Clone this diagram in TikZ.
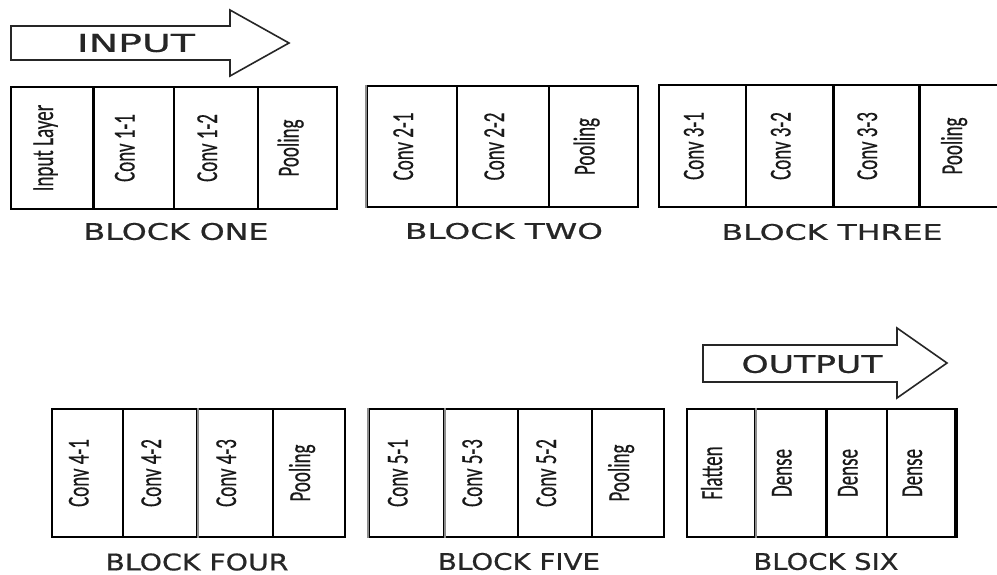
\documentclass[tikz,border=0pt]{standalone}
\usepackage{fontspec}
\usepackage{graphicx}
\newfontfamily\capfont[FakeBold=0.6]{DejaVu Sans}
\newfontfamily\lblfont[FakeBold=0.4]{Carlito}
\newcommand\cellbox[6]{%
  \node[cell, minimum width={#3-#2}, minimum height={#5-#4}] (#1) at ({(#2+#3)/2},{(#4+#5)/2}) {};
  \node[lbl] (#1t) at ([xshift=1pt]#1.center) {\scalebox{1}[1.6]{#6}};
}
\tikzset{
  cell/.style={draw=black, line width=1.5pt, inner sep=0pt, fill=white},
  lbl/.style={rotate=90, anchor=base, inner sep=0pt, text=black!90,
    font=\lblfont\fontsize{19}{19}\selectfont},
  captext/.style={inner sep=0pt, text=black!85, font=\capfont},
  arrowshape/.style={draw=black!85, line width=1.6pt, fill=white, line join=miter},
  thickdiv/.style={draw=black, line width=3pt},
  graydiv/.style={draw=black!45, line width=2.4pt},
}
\begin{document}
\begin{tikzpicture}[x=1pt, y=-1pt]
\useasboundingbox[fill=white] (0,0) rectangle (997,574);

% INPUT arrow
\draw[arrowshape] (11,26) -- (230,26) -- (230,10) -- (289,43) -- (230,76) -- (230,60) -- (11,60) -- cycle;
\node[captext] (intext) at (136,43) {\resizebox{118pt}{18pt}{INPUT}};

% OUTPUT arrow
\draw[arrowshape] (703,345) -- (897,345) -- (897,328) -- (947,363) -- (897,398) -- (897,382) -- (703,382) -- cycle;
\node[captext] (outtext) at (812,364) {\resizebox{141pt}{18pt}{OUTPUT}};

% Block one
\cellbox{a1}{11}{93}{87}{209}{Input Layer}
\cellbox{a2}{93}{174}{87}{209}{Conv 1-1}
\cellbox{a3}{174}{258}{87}{209}{Conv 1-2}
\cellbox{a4}{258}{337}{87}{209}{Pooling}
\draw[thickdiv] (a1.north east) -- (a1.south east);
\node[captext] (na) at (176,231.5) {\resizebox{185pt}{17pt}{BLOCK ONE}};

% Block two
\cellbox{b1}{367}{457}{86}{207}{Conv 2-1}
\cellbox{b2}{457}{549}{86}{207}{Conv 2-2}
\cellbox{b3}{549}{638}{86}{207}{Pooling}
\draw[graydiv] (b1.north west) -- (b1.south west);
\node[captext] (nb) at (504,231) {\resizebox{198pt}{16pt}{BLOCK TWO}};

% Block three
\cellbox{c1}{659}{746}{85}{207}{Conv 3-1}
\cellbox{c2}{746}{833}{85}{207}{Conv 3-2}
\cellbox{c3}{833}{919}{85}{207}{Conv 3-3}
\cellbox{c4}{919}{1003}{85}{207}{Pooling}
\draw[thickdiv] (c2.north east) -- (c2.south east);
\draw[line width=2.2pt] (c3.north east) -- (c3.south east);
\node[captext] (nc) at (832,232) {\resizebox{221pt}{16pt}{BLOCK THREE}};

% Block four
\cellbox{d1}{52}{123}{409}{537}{Conv 4-1}
\cellbox{d2}{123}{197}{409}{537}{Conv 4-2}
\cellbox{d3}{197}{273}{409}{537}{Conv 4-3}
\cellbox{d4}{273}{345}{409}{537}{Pooling}
\draw[graydiv] (d2.north east) -- (d2.south east);
\node[captext] (nd) at (197,562) {\resizebox{183pt}{17pt}{BLOCK FOUR}};

% Block five
\cellbox{e1}{369}{444}{409}{537}{Conv 5-1}
\cellbox{e2}{444}{518}{409}{537}{Conv 5-3}
\cellbox{e3}{518}{592}{409}{537}{Conv 5-2}
\cellbox{e4}{592}{664}{409}{537}{Pooling}
\draw[graydiv] (e1.north east) -- (e1.south east);
\draw[graydiv] (e1.north west) -- (e1.south west);
\node[captext] (ne) at (519,561.5) {\resizebox{162pt}{17pt}{BLOCK FIVE}};

% Block six
\cellbox{f1}{687}{755}{409}{537}{Flatten}
\cellbox{f2}{755}{826}{409}{537}{Dense}
\cellbox{f3}{826}{887}{409}{537}{Dense}
\cellbox{f4}{887}{955}{409}{537}{Dense}
\draw[graydiv] (f1.north east) -- (f1.south east);
\draw[line width=2.4pt] (f2.north east) -- (f2.south east);
\draw[line width=3.5pt] (f4.north east) -- (f4.south east);
\node[captext] (nf) at (826,561.5) {\resizebox{145pt}{17pt}{BLOCK SIX}};
\end{tikzpicture}
\end{document}
